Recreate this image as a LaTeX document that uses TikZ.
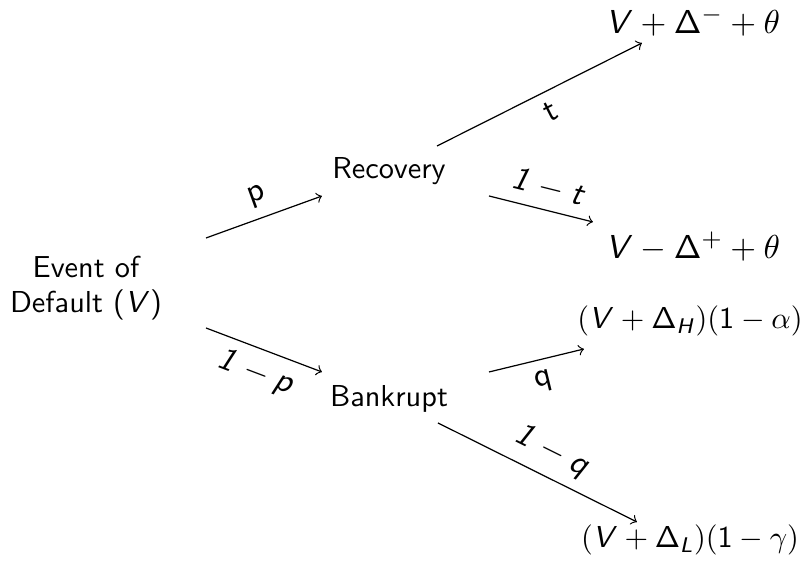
\documentclass[tikz,border=0pt]{standalone}
\usetikzlibrary{calc}
\DeclareMathAlphabet{\mathsfit}{OT1}{cmss}{m}{sl}
\newcommand{\sV}{\mathsfit{V}}
\newcommand{\sD}{\mathsf{\Delta}}
\begin{document}
\begin{tikzpicture}[x=0.33pt,y=-0.33pt,
  txt/.style={font=\fontsize{10}{11.3}\selectfont\sffamily, inner sep=0pt},
  outbig/.style={font=\fontsize{10.95}{13}\selectfont, inner sep=0pt},
  outsmall/.style={font=\fontsize{10}{12}\selectfont, inner sep=0pt},
  lbl/.style={font=\fontsize{10.95}{13}\selectfont\sffamily, sloped},
  arr/.style={->, line width=0.4pt}]
\useasboundingbox (0,0) rectangle (800,565);

\node[txt, align=center] (ev) at (86,288) {Event of\\Default ($\sV$)};
\node[txt] (rec) at (389,171) {Recovery};
\node[txt] (bank) at (389,399) {Bankrupt};
\node[outbig] (o1) at (693,22) {$\sV+\sD^-+\theta$};
\node[outbig] (o2) at (693,247) {$\sV-\sD^+ +\theta$};
\node[outsmall] (o3) at (690,321) {$(\sV+\sD_{\mathsfit{H}})(\mathsf{1}-\alpha)$};
\node[outsmall] (o4) at (690,540) {$(\sV+\sD_{\mathsfit{L}})(\mathsf{1}-\gamma)$};

\draw[arr] ($(ev)+(120,-50)$) -- node[lbl, above, pos=0.5] {p} ($(rec)+(-67,25)$);
\draw[arr] ($(ev)+(120,40)$) -- node[lbl, below, pos=0.5] {$\mathsfit{1}-\mathsfit{p}$} ($(bank)+(-67,-27)$);
\draw[arr] ($(rec)+(48,-25)$) -- node[lbl, below, pos=0.51] {t} ($(o1)+(-51,21)$);
\draw[arr] ($(rec)+(100,25)$) -- node[lbl, above, pos=0.52] {$\mathsfit{1}-\mathsfit{t}$} ($(o2)+(-100,-25)$);
\draw[arr] ($(bank)+(100,-27)$) -- node[lbl, below, pos=0.52] {q} ($(o3)+(-106,28)$);
\draw[arr] ($(bank)+(49,24)$) -- node[lbl, above, pos=0.515] {$\mathsfit{1}-\mathsfit{q}$} ($(o4)+(-53,-18)$);
\end{tikzpicture}
\end{document}
